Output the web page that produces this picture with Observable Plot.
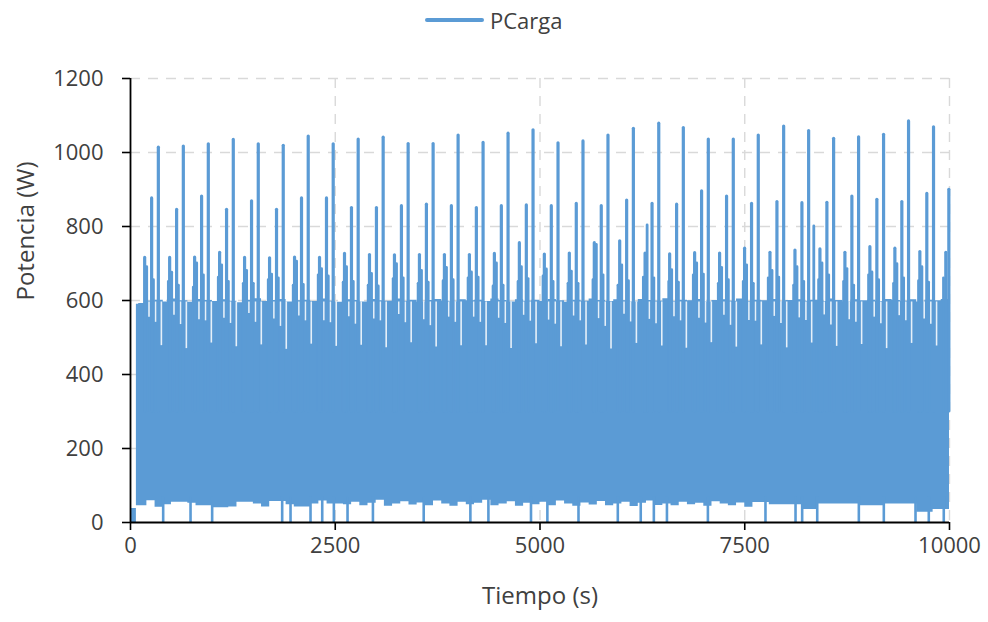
<!DOCTYPE html>
<html><head><meta charset="utf-8">
<script src="https://cdn.jsdelivr.net/npm/d3@7"></script>
<script src="https://cdn.jsdelivr.net/npm/@observablehq/plot@0.6"></script>
<style>
body{margin:0;background:#fff;font-family:"Open Sans",Lato,sans-serif;}
#legend{position:relative;height:40px;width:988px;}
#legend .ln{position:absolute;left:425px;top:18px;width:59px;height:4px;background:#5b9bd5;border-radius:2px;}
#legend .tx{position:absolute;left:490px;top:0;line-height:40px;font-size:22px;color:#404040;}
</style></head><body>
<div id="legend"><div class="ln"></div><div class="tx">PCarga</div></div>
<div id="chart"></div>
<script>
const serie = "PCarga";
const ticksX = [0, 2500, 5000, 7500, 10000];
const ticksY = [0, 200, 400, 600, 800, 1000, 1200];

// Picos altos (~1000 W), uno por ciclo
const tiempoAlto = [340, 645, 950, 1255, 1560, 1865, 2170, 2475, 2780, 3085, 3390, 3695, 4000, 4305, 4610, 4915, 5220, 5525, 5830, 6140, 6450, 6750, 7055, 7360, 7665, 7975, 8280, 8585, 8890, 9195, 9500, 9805];
const potAlto = [1013, 1016, 1022, 1034, 1022, 1018, 1043, 1022, 1035, 1040, 1023, 1023, 1046, 1026, 1051, 1060, 1025, 1030, 1046, 1064, 1078, 1066, 1035, 1035, 1046, 1070, 1058, 1037, 1041, 1048, 1084, 1068];

// Picos medios (~860 W)
const tiempoMedio = [258, 563, 868, 1173, 1478, 1783, 2088, 2393, 2698, 3003, 3308, 3613, 3918, 4223, 4528, 4833, 5138, 5443, 5748, 6058, 6368, 6668, 6973, 7278, 7583, 7893, 8198, 8503, 8808, 9113, 9418, 9723, 9992];
const potMedio = [876, 845, 881, 845, 868, 845, 876, 876, 850, 850, 855, 859, 855, 850, 855, 857, 855, 861, 855, 870, 861, 859, 895, 881, 861, 866, 863, 864, 881, 872, 866, 888, 899];

// Picos bajos (~720 W)
const tiempoBajo = [173, 478, 783, 1088, 1393, 1698, 2003, 2308, 2613, 2918, 3223, 3528, 3833, 4138, 4443, 4748, 5053, 5358, 5663, 5973, 6283, 6583, 6888, 7193, 7498, 7808, 8113, 8418, 8723, 9028, 9333, 9638, 9955];
const potBajo = [715, 715, 716, 729, 715, 714, 716, 715, 726, 723, 722, 723, 723, 723, 726, 755, 724, 727, 755, 760, 727, 725, 728, 727, 740, 729, 735, 738, 729, 744, 740, 731, 729];

// Picos secundarios (~650-700 W, algunos ~800 W)
const tiempoSecundario = [198, 280, 462, 503, 585, 767, 808, 890, 1072, 1113, 1195, 1377, 1418, 1500, 1682, 1723, 1805, 1987, 2028, 2110, 2292, 2333, 2415, 2597, 2638, 2720, 2902, 2943, 3025, 3207, 3248, 3330, 3512, 3553, 3635, 3817, 3858, 3940, 4122, 4163, 4245, 4427, 4468, 4550, 4732, 4773, 4855, 5037, 5078, 5160, 5342, 5383, 5465, 5647, 5688, 5770, 5952, 5998, 6080, 6262, 6308, 6390, 6572, 6608, 6690, 6872, 6913, 6995, 7177, 7218, 7300, 7482, 7523, 7605, 7787, 7833, 7915, 8097, 8138, 8220, 8343, 8402, 8443, 8525, 8707, 8748, 8830, 9012, 9053, 9135, 9317, 9358, 9440, 9622, 9663, 9745, 9927];
const potSecundario = [690, 655, 650, 675, 640, 635, 700, 668, 662, 695, 650, 645, 680, 645, 655, 670, 660, 640, 705, 642, 668, 685, 665, 648, 690, 650, 640, 672, 638, 658, 698, 660, 645, 680, 648, 652, 688, 655, 660, 676, 662, 638, 700, 640, 650, 690, 658, 665, 684, 650, 645, 678, 645, 655, 750, 668, 640, 695, 652, 662, 803, 660, 650, 682, 648, 668, 700, 670, 645, 688, 655, 650, 695, 645, 660, 680, 662, 640, 690, 650, 800, 655, 700, 668, 650, 685, 640, 668, 676, 655, 645, 698, 660, 652, 690, 648, 660];

// Caídas breves (valles) dentro de la banda
const tiempoValle = [226, 307, 377, 531, 612, 682, 836, 917, 987, 1141, 1222, 1292, 1446, 1527, 1597, 1751, 1832, 1902, 2056, 2137, 2207, 2361, 2442, 2512, 2666, 2747, 2817, 2971, 3052, 3122, 3276, 3357, 3427, 3581, 3662, 3732, 3886, 3967, 4037, 4191, 4272, 4342, 4496, 4577, 4647, 4801, 4882, 4952, 5106, 5187, 5257, 5411, 5492, 5562, 5716, 5797, 5867, 6026, 6107, 6177, 6336, 6417, 6487, 6636, 6717, 6787, 6941, 7022, 7092, 7246, 7327, 7397, 7551, 7632, 7702, 7861, 7942, 8012, 8166, 8247, 8317, 8471, 8552, 8622, 8776, 8857, 8927, 9081, 9162, 9232, 9386, 9467, 9537, 9691, 9772, 9842];
const potValle = [555, 541, 478, 560, 535, 470, 548, 545, 485, 552, 538, 475, 565, 541, 480, 550, 530, 468, 558, 545, 482, 545, 540, 476, 556, 536, 479, 550, 545, 472, 562, 540, 486, 548, 532, 474, 555, 541, 478, 555, 541, 478, 552, 538, 470, 560, 544, 483, 547, 536, 475, 558, 545, 480, 551, 530, 469, 563, 542, 484, 549, 537, 477, 556, 545, 471, 552, 539, 486, 560, 533, 474, 546, 544, 480, 557, 538, 472, 553, 546, 485, 561, 534, 476, 548, 541, 481, 555, 537, 470, 559, 545, 484, 550, 536, 477];

// Caídas a 0 W
const tiempoCero = [399, 733, 997, 1852, 1954, 2198, 2341, 2483, 2650, 2960, 3580, 4150, 4370, 4890, 5090, 5470, 5950, 6230, 6390, 6550, 7050, 7753, 8120, 8201, 8385, 8893, 9198, 9585, 9747, 9930];

// Banda de oscilación rápida: mínimo y máximo
const tiempoBanda = [0, 72, 100, 200, 300, 400, 500, 600, 700, 800, 900, 1000, 1100, 1200, 1300, 1400, 1500, 1600, 1700, 1800, 1900, 2000, 2100, 2200, 2300, 2400, 2500, 2600, 2700, 2800, 2900, 3000, 3100, 3200, 3300, 3400, 3500, 3600, 3700, 3800, 3900, 4000, 4100, 4200, 4300, 4400, 4500, 4600, 4700, 4800, 4900, 5000, 5100, 5200, 5300, 5400, 5500, 5600, 5700, 5800, 5900, 6000, 6100, 6200, 6300, 6400, 6500, 6600, 6700, 6800, 6900, 7000, 7100, 7200, 7300, 7400, 7500, 7600, 7700, 7800, 7900, 8000, 8100, 8200, 8300, 8400, 8500, 8600, 8700, 8800, 8900, 9000, 9100, 9200, 9300, 9400, 9500, 9600, 9700, 9800, 9900, 10000];
const potMin = [0, 45, 45, 59, 41, 48, 55, 55, 52, 45, 45, 40, 40, 42, 55, 55, 50, 42, 57, 57, 48, 42, 42, 50, 58, 50, 50, 48, 55, 45, 52, 60, 44, 50, 56, 47, 53, 45, 58, 50, 44, 55, 48, 52, 60, 45, 50, 56, 44, 52, 48, 55, 45, 58, 50, 44, 53, 47, 57, 45, 50, 55, 43, 52, 58, 46, 50, 45, 55, 48, 52, 44, 56, 50, 45, 53, 41, 54, 54, 48, 48, 48, 48, 35, 35, 50, 50, 50, 50, 50, 45, 45, 45, 50, 50, 50, 50, 28, 28, 35, 35, 50];
const potMax = [38, 590, 592, 598, 601, 596, 604, 599, 595, 603, 600, 597, 602, 598, 594, 601, 605, 597, 600, 603, 596, 599, 601, 597, 604, 598, 595, 602, 600, 596, 603, 599, 598, 604, 597, 601, 595, 600, 603, 598, 596, 602, 599, 601, 597, 604, 600, 596, 602, 598, 601, 597, 603, 599, 595, 601, 598, 604, 600, 597, 602, 599, 596, 603, 600, 598, 605, 597, 601, 599, 603, 596, 600, 602, 598, 604, 597, 601, 599, 603, 596, 600, 602, 598, 601, 597, 604, 600, 596, 602, 599, 601, 597, 603, 600, 598, 602, 596, 601, 599, 603, 600];

const azul = "#5b9bd5";
const gris = "#d9d9d9";
const texto = "#404040";

const spike = (ts, vs, w) => Plot.ruleX(ts, {x: d => d, y1: 300, y2: (d, i) => vs[i], stroke: azul, strokeWidth: w, strokeLinecap: "round"});

const chart = Plot.plot({
  width: 988, height: 582,
  marginTop: 38, marginBottom: 100, marginLeft: 130, marginRight: 39,
  style: {fontFamily: "'Open Sans', Lato, sans-serif", background: "white"},
  x: {type: "linear", domain: [0, 10000]},
  y: {type: "linear", domain: [0, 1200]},
  marks: [
    Plot.ruleY(ticksY.slice(1), {stroke: gris, strokeWidth: 1.4, strokeDasharray: "10,8"}),
    Plot.ruleX(ticksX.slice(1), {stroke: gris, strokeWidth: 1.4, strokeDasharray: "10,8"}),
    Plot.areaY(tiempoBanda, {x: d => d, y1: (d, i) => potMin[i], y2: (d, i) => potMax[i], curve: "step-after", fill: azul}),
    Plot.ruleX(tiempoCero, {x: d => d, y1: 0, y2: 70, stroke: azul, strokeWidth: 2.6}),
    spike(tiempoSecundario, potSecundario, 2.8),
    Plot.ruleX(tiempoValle, {x: d => d, y1: (d, i) => potValle[i], y2: 596, stroke: "white", strokeOpacity: 0.85, strokeWidth: 1.6}),
    spike(tiempoBajo, potBajo, 3.2),
    spike(tiempoMedio, potMedio, 3.2),
    spike(tiempoAlto, potAlto, 3.2),
    Plot.ruleY([0], {stroke: "black", strokeWidth: 1.8}),
    Plot.ruleX([0], {stroke: "black", strokeWidth: 1.8}),
    Plot.axisY(ticksY, {tickSize: 8, tickPadding: 19, tickFormat: d => String(d), fontSize: 22, fill: texto, stroke: "black", strokeWidth: 1.6, label: null}),
    Plot.axisX(ticksX, {tickSize: 8, tickPadding: 7, tickFormat: d => String(d), fontSize: 22, fill: texto, stroke: "black", strokeWidth: 1.6, label: null}),
    Plot.text(["Potencia (W)"], {frameAnchor: "left", dx: -104, rotate: -90, fontSize: 24, fill: texto}),
    Plot.text(["Tiempo (s)"], {frameAnchor: "bottom", dy: 81, fontSize: 24, fill: texto})
  ]
});
document.getElementById("chart").appendChild(chart);
</script>
</body></html>
